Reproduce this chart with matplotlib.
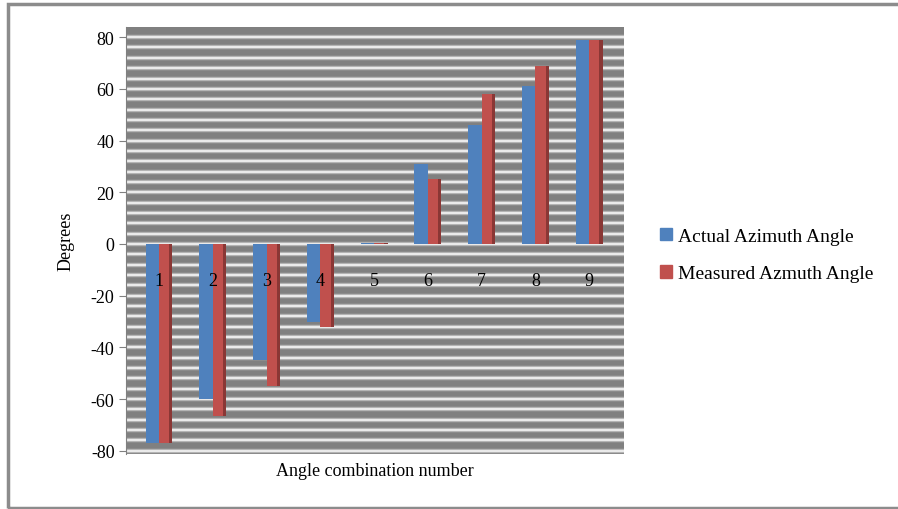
import numpy as np
import matplotlib
matplotlib.use('Agg')
import matplotlib.pyplot as plt
from matplotlib.patches import Rectangle

kategorije = ['1', '2', '3', '4', '5', '6', '7', '8', '9']
stvarni = [-77, -60, -45, -30, 0.5, 31, 46, 61, 79]     # Actual Azimuth Angle
mjereni = [-77, -66.5, -55, -32, 0.5, 25, 58, 69, 79]   # Measured Azmuth Angle
y_tickovi = [-80, -60, -40, -20, 0, 20, 40, 60, 80]

plt.rcParams['font.family'] = ['Liberation Serif', 'DejaVu Serif']

plava = '#4F81BD'
crvena = '#C0504D'

slika = plt.figure(figsize=(8.98, 5.10), dpi=100)
ax = slika.add_axes([0.140, 0.108, 0.555, 0.837])
ax.set_facecolor('#808080')

# svijetle trake (3D mreza)
for yy in np.arange(-80, 84, 4):
    ax.axhline(yy, color='#b4b4b4', lw=3.2, zorder=0.5)
    ax.axhline(yy, color='#f0f0f0', lw=1.3, zorder=0.6)

x = np.arange(1, len(kategorije) + 1)
w = 0.25
ax.bar(x - w / 2, stvarni, width=w, color=plava, zorder=2)
ax.bar(x + w / 2, mjereni, width=w, color=crvena, zorder=2)
# tamnija bocna strana
ax.bar(x + w - 0.03, mjereni, width=0.06, color='#8a3735', zorder=2.5)

for xi, k in zip(x, kategorije):
    ax.text(xi, -14, k, ha='center', va='center', fontsize=13, zorder=3)

ax.set_xlim(0.38, 9.65)
ax.set_ylim(-81.2, 83.9)
ax.set_xticks([])
ax.set_yticks(y_tickovi)
ax.set_yticklabels([str(v) for v in y_tickovi], fontsize=13)
ax.tick_params(axis='y', length=5, color='#808080', pad=3)
for s in ['top', 'right', 'bottom']:
    ax.spines[s].set_visible(False)
ax.spines['left'].set_color('#808080')

ax.set_ylabel('Degrees', fontsize=13, labelpad=12)
ax.set_xlabel('Angle combination number', fontsize=13, labelpad=6)

h1 = Rectangle((0, 0), 1, 1, color=plava)
h2 = Rectangle((0, 0), 1, 1, color=crvena)
slika.legend([h1, h2], ['Actual Azimuth Angle', 'Measured Azmuth Angle'],
             loc='center left', bbox_to_anchor=(0.716, 0.498), frameon=False,
             fontsize=14, handlelength=0.6, handleheight=0.6, handletextpad=0.3,
             labelspacing=1.05)

slika.patches.append(Rectangle((0.009, 0.002), 1.2, 0.988, transform=slika.transFigure,
                               fill=False, edgecolor='#8c8c8c', lw=2.5))

plt.savefig('out.png', dpi=100)
